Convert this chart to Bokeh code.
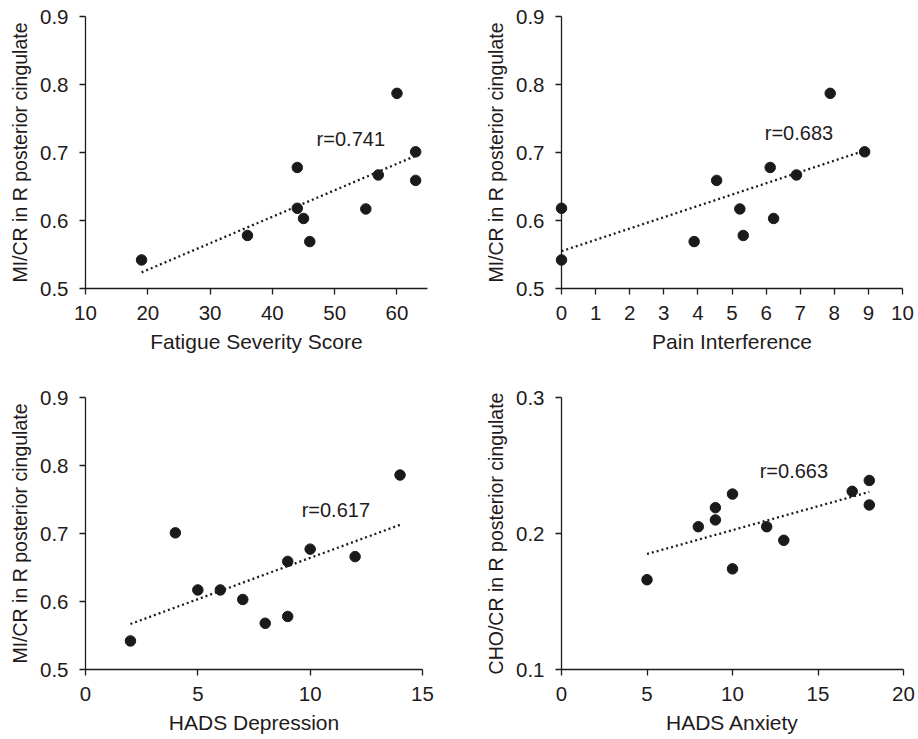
import numpy as np
from bokeh.plotting import figure
from bokeh.layouts import column, row
from bokeh.models import FixedTicker
from bokeh.embed import file_html
from bokeh.resources import INLINE
from bokeh.core.properties import value

# ---- data ----
mi_cr = [0.542, 0.578, 0.678, 0.618, 0.603, 0.569, 0.617, 0.667, 0.787, 0.701, 0.659]
fatigue = [19, 36, 44, 44, 45, 46, 55, 57, 60, 63, 63]

pain = [0.0, 0.0, 3.89, 4.55, 5.23, 5.33, 6.12, 6.22, 6.89, 7.88, 8.89]
mi_cr_pain = [0.618, 0.542, 0.569, 0.659, 0.617, 0.578, 0.678, 0.603, 0.667, 0.787, 0.701]

hads_dep = [2, 4, 5, 6, 7, 8, 9, 9, 10, 12, 14]
mi_cr_dep = [0.542, 0.701, 0.617, 0.617, 0.603, 0.568, 0.659, 0.578, 0.677, 0.666, 0.786]

hads_anx = [5, 8, 9, 9, 10, 10, 12, 13, 17, 18, 18]
cho_cr = [0.166, 0.205, 0.219, 0.210, 0.229, 0.174, 0.205, 0.195, 0.231, 0.239, 0.221]

r_labels = ["r=0.741", "r=0.683", "r=0.617", "r=0.663"]
x_titles = ["Fatigue Severity Score", "Pain Interference", "HADS Depression", "HADS Anxiety"]
y_titles = ["MI/CR in R posterior cingulate", "MI/CR in R posterior cingulate",
            "MI/CR in R posterior cingulate", "CHO/CR in R posterior cingulate"]
x_ticks = [[10, 20, 30, 40, 50, 60], list(range(0, 11)), [0, 5, 10, 15], [0, 5, 10, 15, 20]]
y_ticks = [[0.5, 0.6, 0.7, 0.8, 0.9]] * 3 + [[0.1, 0.2, 0.3]]
x_ranges = [(10, 64.9), (0, 10), (0, 15), (0, 20)]
y_ranges = [(0.5, 0.9), (0.5, 0.9), (0.5, 0.9), (0.1, 0.3)]
r_pos = [(47.1, 0.720), (5.96, 0.728), (9.62, 0.734), (11.59, 0.2456)]

INK = "#1f1b1c"
FONT = "Liberation Sans"

# layout: (width, height, left, right, top, bottom)
geom = [(459, 370, 85, 32, 16, 82),
        (459, 370, 102, 16, 16, 82),
        (459, 369, 85, 37, 27, 70),
        (459, 369, 102, 15, 27, 70)]

datasets = [(fatigue, mi_cr), (pain, mi_cr_pain), (hads_dep, mi_cr_dep), (hads_anx, cho_cr)]

figs = []
for i, (xs, ys) in enumerate(datasets):
    w, h, l, r, t, b = geom[i]
    p = figure(width=w, height=h, output_backend="svg", toolbar_location=None,
               x_range=x_ranges[i], y_range=y_ranges[i],
               min_border_left=l, min_border_right=r, min_border_top=t, min_border_bottom=b)
    p.outline_line_color = None
    p.grid.visible = False
    p.background_fill_color = "white"
    p.border_fill_color = "white"

    for ax in (p.xaxis[0], p.yaxis[0]):
        ax.axis_line_color = INK
        ax.axis_line_width = 1.3
        ax.major_tick_line_color = INK
        ax.major_tick_line_width = 1.3
        ax.major_tick_in = 0
        ax.major_tick_out = 6
        ax.minor_tick_line_color = None
        ax.major_label_text_font = FONT
        ax.major_label_text_font_size = "20.5px"
        ax.major_label_text_color = INK
        ax.axis_label_text_font = FONT
        ax.axis_label_text_font_style = "normal"
        ax.axis_label_text_color = INK

    p.xaxis[0].ticker = FixedTicker(ticks=x_ticks[i])
    p.yaxis[0].ticker = FixedTicker(ticks=y_ticks[i])
    p.xaxis[0].major_label_standoff = 11
    p.yaxis[0].major_label_standoff = 11
    p.xaxis[0].axis_label = x_titles[i]
    p.yaxis[0].axis_label = y_titles[i]
    p.xaxis[0].axis_label_text_font_size = "21px"
    p.yaxis[0].axis_label_text_font_size = "19.5px"
    p.xaxis[0].axis_label_standoff = 7
    p.yaxis[0].axis_label_standoff = 6

    # regression line over the range of the data
    xa = np.array(xs, dtype=float)
    ya = np.array(ys, dtype=float)
    k, c = np.polyfit(xa, ya, 1)
    lx = np.array([xa.min(), xa.max()])
    p.line(lx, k * lx + c, line_color=INK, line_width=2.3, line_dash="2 3")

    p.scatter(xs, ys, size=10.5, marker="circle", fill_color="#1a1a1a",
              line_color="#1a1a1a", level="overlay")

    p.text([r_pos[i][0]], [r_pos[i][1]], text=[r_labels[i]],
           text_font=value(FONT), text_font_size="20px", text_color=INK,
           text_baseline="alphabetic", text_align="left")
    figs.append(p)

layout = column(row(figs[0], figs[1]), row(figs[2], figs[3]))
open("out.html", "w").write(file_html(layout, INLINE))
